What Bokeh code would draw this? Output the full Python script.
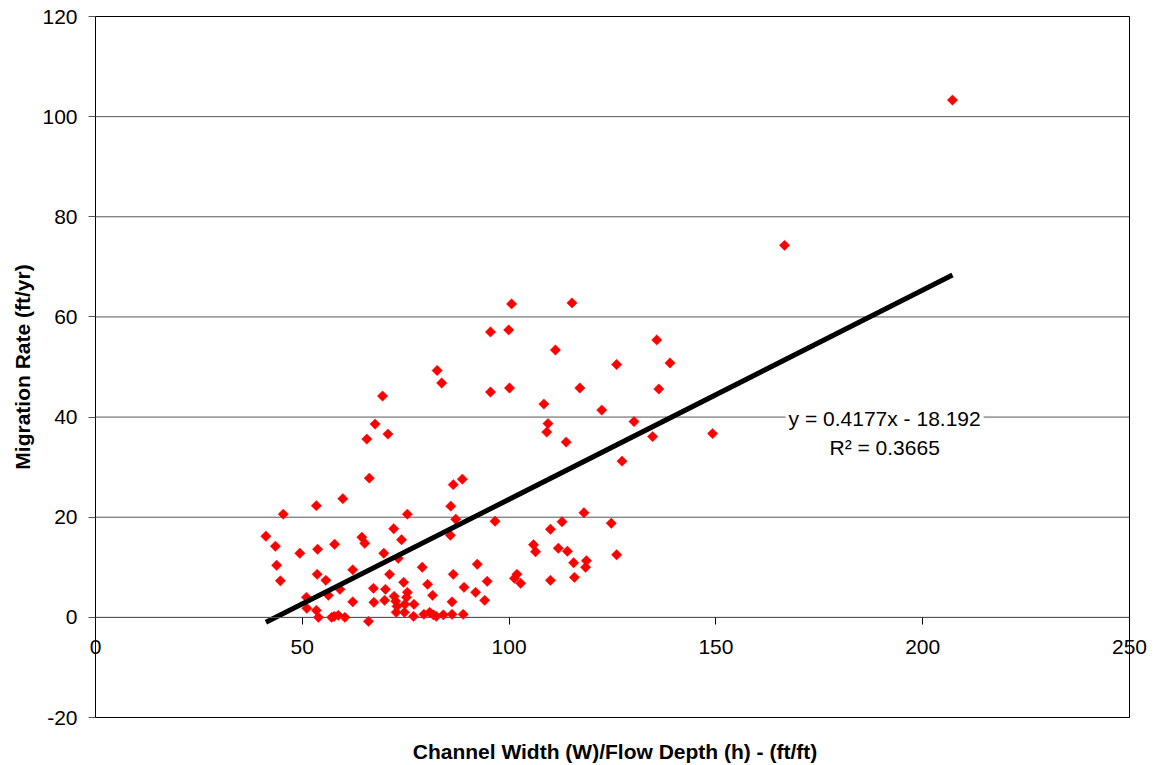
import numpy as np
from bokeh.plotting import figure
from bokeh.models import Range1d, FixedTicker, Label, ColumnDataSource, LinearAxis
from bokeh.embed import file_html
from bokeh.resources import INLINE

# Width/depth ratio (ft/ft) and migration rate (ft/yr)
width_depth = [41.2, 43.5, 45.4, 43.8, 44.7, 49.4, 53.4, 53.7, 59.8, 66.2,
               57.8, 53.6, 55.7, 51.0, 51.1, 53.4, 53.9, 56.3, 59.1, 57.1,
               57.7, 58.7, 60.3, 62.2, 62.2, 64.4, 65.1, 66.0, 67.2, 67.3,
               69.7, 70.1, 69.9, 71.1, 72.1, 74.0, 73.2, 72.2, 72.6, 72.9,
               72.7, 74.5, 75.4, 75.2, 74.8, 74.7, 77.0, 76.9, 75.4, 79.0,
               80.3, 81.5, 79.4, 80.8, 81.7, 82.4, 84.1, 86.2, 88.9, 86.2,
               86.5, 89.1, 85.8, 85.9, 86.5, 88.7, 87.1, 82.6, 83.7, 69.4,
               67.6, 70.7, 65.6, 100.6, 115.2, 95.5, 99.9, 111.2, 135.7, 138.9,
               126.0, 95.5, 100.1, 117.1, 136.2, 108.4, 122.4, 109.4, 109.1, 113.8,
               130.2, 134.7, 127.3, 149.2, 96.6, 118.1, 112.8, 110.0, 124.7, 105.9,
               106.4, 111.9, 114.1, 126.0, 115.6, 118.7, 118.5, 92.3, 94.7, 91.9,
               94.1, 101.9, 101.3, 102.8, 110.0, 115.8, 207.2, 166.6]
migration = [16.2, 14.2, 20.6, 10.4, 7.3, 12.8, 22.3, 13.6, 23.7, 27.8,
             14.6, 8.6, 7.4, 4.0, 1.8, 1.4, 0.0, 4.4, 5.6, 0.0,
             0.2, 0.4, 0.0, 9.5, 3.1, 16.0, 14.8, -0.8, 5.8, 3.0,
             12.8, 5.6, 3.4, 8.6, 17.7, 15.5, 11.8, 4.2, 3.2, 2.2,
             1.0, 7.0, 5.0, 4.0, 2.6, 1.0, 2.6, 0.2, 20.6, 10.0,
             6.6, 4.4, 0.6, 1.0, 0.5, 0.2, 0.5, 0.6, 0.6, 3.1,
             8.6, 6.0, 16.4, 22.2, 26.5, 27.6, 19.6, 49.3, 46.8, 44.2,
             38.6, 36.6, 35.6, 62.6, 62.8, 57.0, 57.4, 53.4, 55.4, 50.8,
             50.5, 45.0, 45.8, 45.8, 45.6, 42.6, 41.4, 38.7, 37.0, 35.0,
             39.1, 36.1, 31.2, 36.7, 19.2, 20.9, 19.1, 17.6, 18.8, 14.5,
             13.1, 13.8, 13.2, 12.5, 10.9, 11.3, 10.0, 10.6, 7.2, 5.0,
             3.4, 8.6, 7.8, 6.8, 7.4, 8.0, 103.3, 74.3]

slope = 0.4177
intercept = -18.192
r_squared = 0.3665

x_ticks = [0, 50, 100, 150, 200, 250]
y_ticks = [-20, 0, 20, 40, 60, 80, 100, 120]
x_min, x_max = 0, 250
y_min, y_max = -20, 120

# layout (pixels) of the plotting box inside the 1157x765 canvas
W, H = 1157, 765
BOX_L, BOX_R, BOX_T, BOX_B = 95, 1129, 16, 717
kx = (BOX_R - BOX_L) / (x_max - x_min)
ky = (BOX_B - BOX_T) / (y_max - y_min)

FONT = "Liberation Sans"
FS = "21px"

p = figure(width=W, height=H, output_backend="svg", toolbar_location=None,
           x_axis_location=None, y_axis_location=None,
           x_range=Range1d(x_min - BOX_L / kx, x_max + (W - BOX_R) / kx),
           y_range=Range1d(y_min - (H - BOX_B) / ky, y_max + BOX_T / ky),
           min_border=0, min_border_left=0, min_border_right=0,
           min_border_top=0, min_border_bottom=0)
p.title.visible = False
p.center = []
p.background_fill_color = "white"
p.border_fill_color = "white"
p.outline_line_color = None

# horizontal gridlines limited to the box
n = len(y_ticks)
p.segment(x0=[x_min] * n, y0=y_ticks, x1=[x_max] * n, y1=y_ticks,
          line_color="#555555", line_width=1)

# box border
p.quad(left=[x_min], right=[x_max], bottom=[y_min], top=[y_max],
       fill_color=None, line_color="black", line_width=1)

# x axis crossing at y = 0
xa = LinearAxis(fixed_location=0, bounds=(x_min, x_max),
                ticker=FixedTicker(ticks=x_ticks))
xa.axis_line_color = "#555555"
xa.major_tick_line_color = "black"
xa.major_tick_in = 0
xa.major_tick_out = 7
xa.minor_tick_line_color = None
xa.major_label_standoff = 16
xa.major_label_text_font = FONT
xa.major_label_text_font_size = FS
xa.major_label_text_color = "black"
p.add_layout(xa, "below")

# y axis at x = 0
ya = LinearAxis(fixed_location=0, bounds=(y_min, y_max),
                ticker=FixedTicker(ticks=y_ticks))
ya.axis_line_color = "black"
ya.major_tick_line_color = "#555555"
ya.major_tick_in = 0
ya.major_tick_out = 7
ya.minor_tick_line_color = None
ya.major_label_standoff = 11
ya.major_label_overrides = {-20: "-20"}
ya.major_label_text_font = FONT
ya.major_label_text_font_size = FS
ya.major_label_text_color = "black"
ya.axis_label = "Migration Rate (ft/yr)"
ya.axis_label_text_font = FONT
ya.axis_label_text_font_size = FS
ya.axis_label_text_font_style = "bold"
ya.axis_label_text_color = "black"
ya.axis_label_standoff = 5
p.add_layout(ya, "left")

src = ColumnDataSource(dict(x=width_depth, y=migration))
p.scatter("x", "y", source=src, marker="square", size=7.3, angle=np.pi / 4,
          fill_color="#ff0000", line_color="#ff0000", line_width=0.5)

x_fit = [min(width_depth), max(width_depth)]
y_fit = [slope * v + intercept for v in x_fit]
p.line(x_fit, y_fit, line_color="black", line_width=5)

eq = Label(x=190.8, y=39.7, text=f"y = {slope}x - {abs(intercept)}",
           text_align="center", text_baseline="middle",
           text_font=FONT, text_font_size=FS, text_color="black",
           background_fill_color="white", padding=3)
r2 = Label(x=190.8, y=33.9, text=f"R\u00b2 = {r_squared}",
           text_align="center", text_baseline="middle",
           text_font=FONT, text_font_size=FS, text_color="black")
p.add_layout(eq)
p.add_layout(r2)

xtitle = Label(x=(x_min + x_max) / 2 + 0.6, y=y_min - 6.8,
               text="Channel Width (W)/Flow Depth (h) - (ft/ft)",
               text_align="center", text_baseline="middle",
               text_font=FONT, text_font_size=FS, text_font_style="bold",
               text_color="black")
p.add_layout(xtitle)

open("out.html", "w").write(file_html(p, INLINE))
